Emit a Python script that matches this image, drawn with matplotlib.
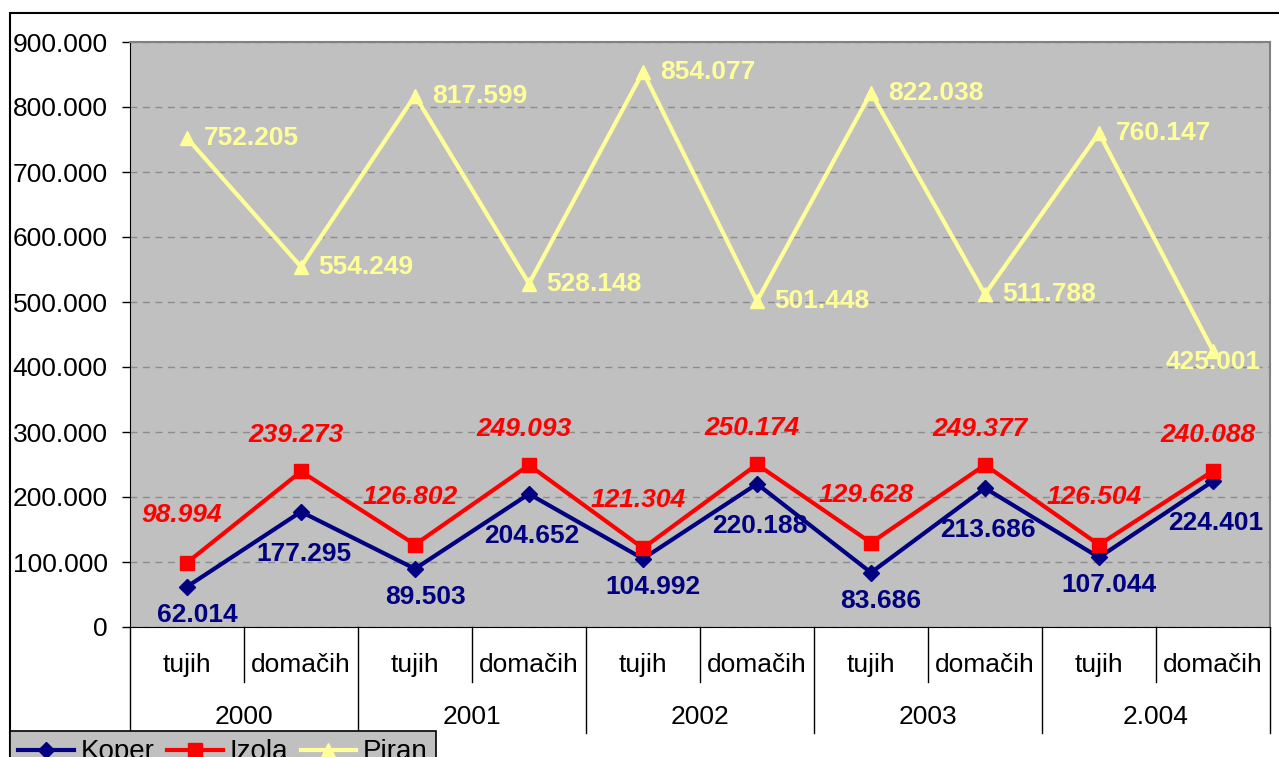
import matplotlib.pyplot as plt
import matplotlib.patches as mpatches
from matplotlib.lines import Line2D

plt.rcParams['font.family'] = ['Liberation Sans', 'DejaVu Sans']

# podatki (v tisocih)
leta = ["2000", "2001", "2002", "2003", "2.004"]
vrsta = ["tujih", "domačih"]
koper = [62.014, 177.295, 89.503, 204.652, 104.992, 220.188, 83.686, 213.686, 107.044, 224.401]
izola = [98.994, 239.273, 126.802, 249.093, 121.304, 250.174, 129.628, 249.377, 126.504, 240.088]
piran = [752.205, 554.249, 817.599, 528.148, 854.077, 501.448, 822.038, 511.788, 760.147, 425.001]

def fmt(v):
    return "%.3f" % v

x = list(range(len(koper)))

fig = plt.figure(figsize=(12.79, 7.57), dpi=100)
ax = fig.add_axes([130/1279, 1-627/757, 1140/1279, 585/757])
ax.set_facecolor('#c0c0c0')

ax.plot(x, koper, color='#000080', lw=3, marker='D', ms=8, label='Koper', zorder=3)
ax.plot(x, izola, color='#ff0000', lw=3, marker='s', ms=10, label='Izola', zorder=3)
ax.plot(x, piran, color='#ffff99', lw=3, marker='^', ms=10, label='Piran', zorder=3)

fs = 19
for i in x:
    # tujih / domacih imata malo drugacen zamik
    kx, ky = (10, -28) if i % 2 == 0 else (3, -42)
    ax.annotate(fmt(koper[i]), (i, koper[i]), xytext=(kx, ky), textcoords='offset pixels',
                ha='center', va='center', color='#000080', fontsize=fs, fontweight='bold')
    iy = 48 if i % 2 == 0 else 36
    ax.annotate(fmt(izola[i]), (i, izola[i]), xytext=(-5, iy), textcoords='offset pixels',
                ha='center', va='center', color='#ff0000', fontsize=fs, fontweight='bold',
                style='italic')
    if i == len(x) - 1:
        ax.annotate(fmt(piran[i]), (i, piran[i]), xytext=(0, -11), textcoords='offset pixels',
                    ha='center', va='center', color='#ffff99', fontsize=fs, fontweight='bold')
    else:
        ax.annotate(fmt(piran[i]), (i, piran[i]), xytext=(17, 0), textcoords='offset pixels',
                    ha='left', va='center', color='#ffff99', fontsize=fs, fontweight='bold')

ax.set_xlim(-0.5, len(x) - 0.5)
ax.set_ylim(0, 900)
yt = list(range(0, 901, 100))
ax.set_yticks(yt)
ax.set_yticklabels(['0' if v == 0 else fmt(v) for v in yt], fontsize=fs)
ax.tick_params(axis='y', direction='out', length=6, width=1, pad=10)
ax.set_xticks([])
ax.yaxis.grid(True, ls=(0, (5, 4)), color='#8c8c8c', lw=1)
ax.set_axisbelow(True)
ax.spines['top'].set_color('#808080')
ax.spines['right'].set_color('#808080')
ax.spines['top'].set_linewidth(1.5)
ax.spines['right'].set_linewidth(1.5)
ax.spines['left'].set_color('k')
ax.spines['bottom'].set_color('k')

# dvonivojska os kategorij
tr = ax.get_xaxis_transform()
for i in x:
    ax.text(i, -0.065, vrsta[i % 2], transform=tr, ha='center', va='center', fontsize=fs)
    if i % 2 == 0:
        ax.plot([i - 0.5, i - 0.5], [0, -0.181], transform=tr, color='k', lw=1, clip_on=False)
    else:
        ax.plot([i - 0.5, i - 0.5], [0, -0.094], transform=tr, color='k', lw=1, clip_on=False)
ax.plot([len(x) - 0.5] * 2, [0, -0.181], transform=tr, color='k', lw=1, clip_on=False)
for j, leto in enumerate(leta):
    ax.text(2 * j + 0.5, -0.154, leto, transform=tr, ha='center', va='center', fontsize=fs)

# okvir grafa
fig.patches.append(mpatches.Rectangle((10/1279, -0.2), 1.5, 1.2 - 13/757, transform=fig.transFigure,
                                      fill=False, edgecolor='k', lw=1.5))

handles = [Line2D([], [], color='#000080', lw=3, marker='D', ms=8),
           Line2D([], [], color='#ff0000', lw=3, marker='s', ms=10),
           Line2D([], [], color='#ffff99', lw=3, marker='^', ms=10)]
leg = fig.legend(handles, ['Koper', 'Izola', 'Piran'], loc='upper left',
                 bbox_to_anchor=(10/1279, 1-731/757), ncol=3, fontsize=20, frameon=True,
                 fancybox=False, facecolor='#c0c0c0', edgecolor='k', framealpha=1,
                 handlelength=2.0, handletextpad=0.25, columnspacing=0.45, borderpad=0.3,
                 borderaxespad=0)
leg.get_frame().set_linewidth(1.2)

fig.savefig('out.png', dpi=100)
